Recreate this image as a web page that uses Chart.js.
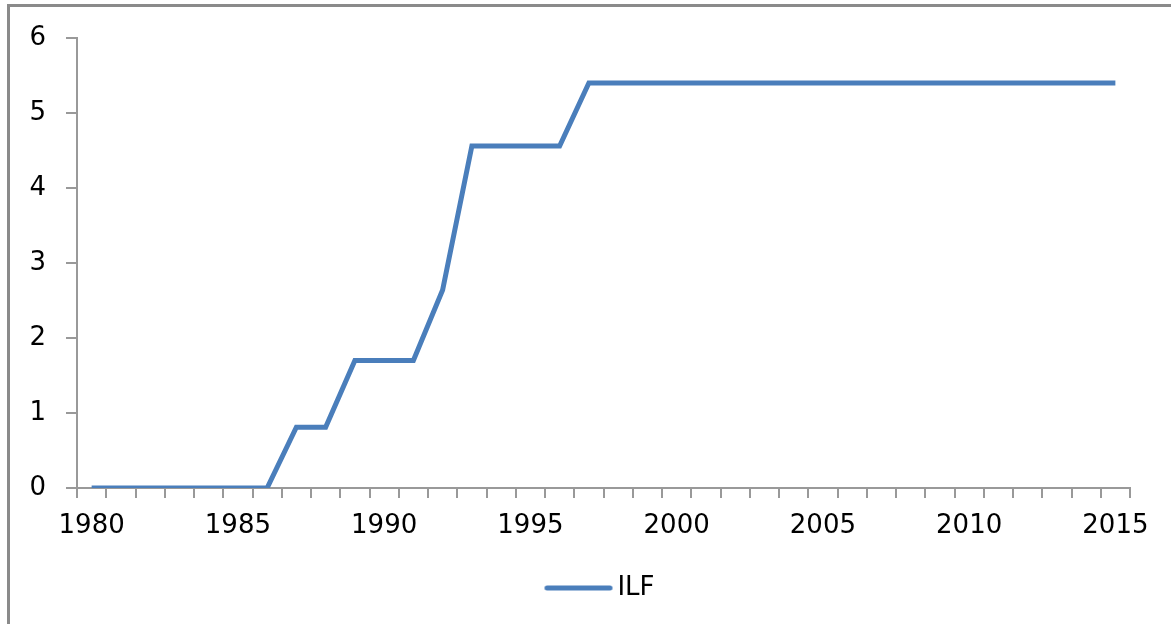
<!DOCTYPE html>
<html>
<head>
<meta charset="utf-8">
<script src="https://cdn.jsdelivr.net/npm/chart.js@4"></script>
<style>
  html, body { margin: 0; padding: 0; background: #fff; }
  #wrap { position: relative; width: 1171px; height: 624px; overflow: hidden; }
  #frame { position: absolute; left: 7px; top: 4px; width: 1200px; height: 700px; border: 3px solid #8a8a8a; box-sizing: border-box; }
  canvas { position: absolute; left: 0; top: 0; }
</style>
</head>
<body>
<div id="wrap">
  <div id="frame"></div>
  <canvas id="ilfChart" width="1171" height="624"></canvas>
</div>
<script>
// 年ごとのデータ
const years = [];
for (let y = 1980; y <= 2015; y++) years.push(String(y));

const ilf = [
  0, 0, 0, 0, 0, 0, 0,          // 1980-1986
  0.81, 0.81,                   // 1987-1988
  1.7, 1.7, 1.7,                // 1989-1991
  2.64,                         // 1992
  4.56, 4.56, 4.56, 4.56,       // 1993-1996
  5.4, 5.4, 5.4, 5.4, 5.4, 5.4, 5.4, 5.4, 5.4, 5.4,   // 1997-2006
  5.4, 5.4, 5.4, 5.4, 5.4, 5.4, 5.4, 5.4, 5.4        // 2007-2015
];

const yTicks = [0, 1, 2, 3, 4, 5, 6];

const lineBlue = '#4a7ebb';
const axisGray = '#999999';
const tickFont = { family: 'DejaVu Sans', size: 26 };

// 凡例用の線
const legendLine = document.createElement('canvas');
legendLine.width = 71;
legendLine.height = 6;
(function () {
  const c = legendLine.getContext('2d');
  c.strokeStyle = lineBlue;
  c.lineWidth = 5;
  c.lineCap = 'round';
  c.beginPath();
  c.moveTo(3.5, 3);
  c.lineTo(66.5, 3);
  c.stroke();
})();

// 凡例を少し右へずらす
const shiftLegend = {
  id: 'shiftLegend',
  afterLayout(chart) {
    chart.legend.left += 39;
    chart.legend.right += 39;
  }
};

const ctx = document.getElementById('ilfChart').getContext('2d');
const ilfChart = new Chart(ctx, {
  type: 'line',
  data: {
    labels: years,
    datasets: [{
      label: 'ILF',
      data: ilf,
      borderColor: lineBlue,
      backgroundColor: lineBlue,
      borderWidth: 5,
      pointRadius: 0,
      tension: 0,
      fill: false
    }]
  },
  plugins: [shiftLegend],
  options: {
    responsive: false,
    animation: false,
    layout: { padding: { left: 0, top: 38, right: 41, bottom: 13 } },
    plugins: {
      tooltip: { enabled: false },
      legend: {
        position: 'bottom',
        labels: {
          usePointStyle: true,
          pointStyle: legendLine,
          pointStyleWidth: 51,
          boxHeight: 20,
          color: '#000',
          font: tickFont,
          padding: 10
        }
      }
    },
    scales: {
      x: {
        type: 'category',
        offset: true,
        grid: {
          offset: true,
          drawOnChartArea: false,
          drawTicks: true,
          tickLength: 10,
          lineWidth: 2,
          color: axisGray
        },
        border: { color: axisGray, width: 2 },
        ticks: {
          autoSkip: false,
          maxRotation: 0,
          color: '#000',
          font: tickFont,
          padding: 13,
          callback: function (v) {
            const lab = this.getLabelForValue(v);
            return Number(lab) % 5 === 0 ? lab : '';
          }
        },
        afterFit: function (s) { s.height = 77; }
      },
      y: {
        min: 0,
        max: 6,
        afterBuildTicks: function (s) { s.ticks = yTicks.map(v => ({ value: v })); },
        grid: {
          drawOnChartArea: false,
          drawTicks: true,
          tickLength: 11,
          lineWidth: 2,
          color: axisGray
        },
        border: { color: axisGray, width: 2 },
        ticks: {
          color: '#000',
          font: tickFont,
          padding: 20
        },
        afterFit: function (s) { s.width = 77; }
      }
    }
  }
});
</script>
</body>
</html>
